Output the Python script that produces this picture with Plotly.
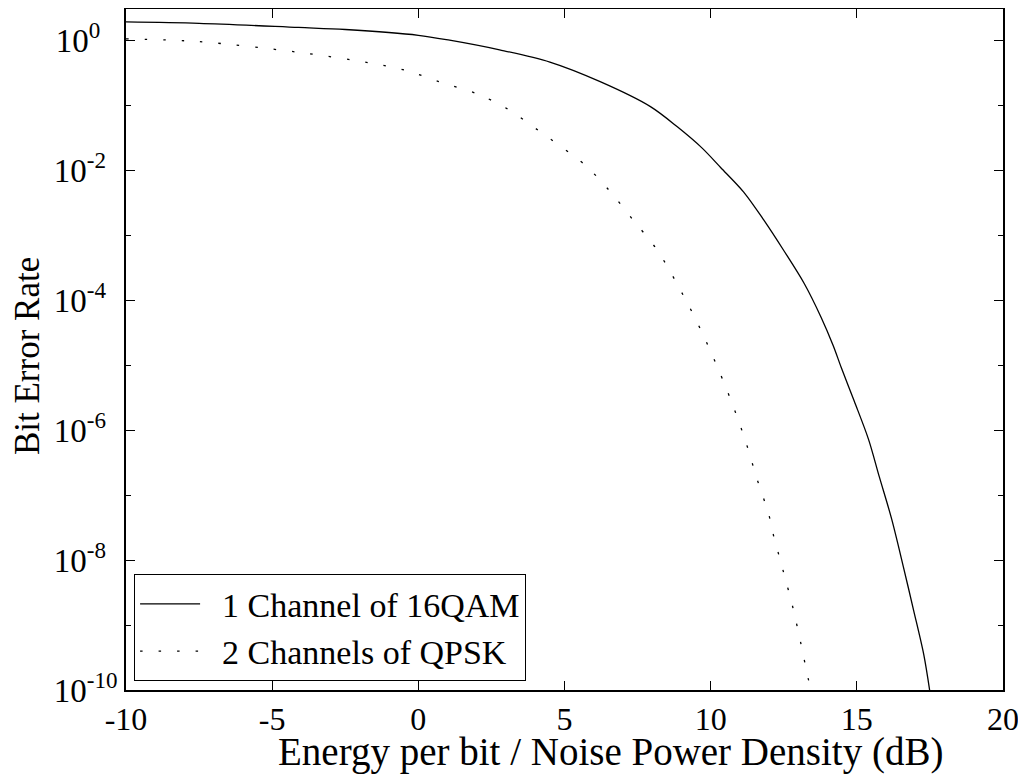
import plotly.graph_objects as go

# 1 Channel of 16QAM (solid)
qam_x = [-10, -7.5, -4.1, -2.5, 0, 1.07, 2.78, 4.5, 6.22, 7.94, 8.87, 9.7, 10.34, 11.13,
         11.82, 12.5, 13.2, 13.78, 14.19, 14.47, 14.91, 15.4, 15.77, 16.19, 16.6, 16.94,
         17.29, 17.49]
qam_ber = [1.91, 1.82, 1.57, 1.46, 1.19, 1.0, 0.71, 0.46, 0.23, 0.095, 0.046, 0.022, 0.011,
           4.6e-3, 1.7e-3, 5.8e-4, 1.8e-4, 5.4e-5, 2.0e-5, 9.1e-6, 2.8e-6, 7.2e-7, 1.9e-7,
           4.3e-8, 7.6e-9, 1.7e-9, 3.5e-10, 1.0e-10]

# 2 Channels of QPSK (dotted)
qpsk_x = [-10, -7.5, -4.2, -1.7, -0.4, 0.7, 2.0, 3.06, 4.1, 5.7, 6.56, 7.35, 8.18, 9.15,
          9.73, 10.27, 10.76, 11.2, 11.58, 11.99, 12.13, 12.47, 12.82, 13.09, 13.37, 13.45]
qpsk_ber = [1.05, 0.95, 0.66, 0.45, 0.34, 0.23, 0.15, 0.087, 0.041, 0.012, 4.7e-3, 1.7e-3,
            5.8e-4, 1.0e-4, 3.0e-5, 8.5e-6, 2.4e-6, 6.6e-7, 1.8e-7, 5.0e-8, 2.6e-8, 7.1e-9,
            1.8e-9, 5.1e-10, 1.3e-10, 1.0e-10]

x_tick_vals = [-10, -5, 0, 5, 10, 15, 20]
x_tick_text = ["-10", "-5", "0", "5", "10", "15", "20"]
y_tick_vals = [1, 1e-2, 1e-4, 1e-6, 1e-8, 1e-10]
y_tick_text = ["10<sup>0\u00a0\u00a0\u00a0</sup>", "10<sup>-2\u00a0\u00a0</sup>",
               "10<sup>-4\u00a0\u00a0</sup>", "10<sup>-6\u00a0\u00a0</sup>",
               "10<sup>-8\u00a0\u00a0</sup>", "10<sup>-10</sup>"]
series_names = ["\u00a0\u00a01 Channel of 16QAM", "\u00a0\u00a02 Channels of QPSK"]
x_title = "Energy per bit / Noise Power Density (dB)"
y_title = "Bit Error Rate"

FONT = "Liberation Serif"

fig = go.Figure()
fig.add_trace(go.Scatter(x=qam_x, y=qam_ber, mode="lines", name=series_names[0],
                         line=dict(color="black", width=1.3, shape="spline", smoothing=0.9)))
fig.add_trace(go.Scatter(x=qpsk_x, y=qpsk_ber, mode="lines", name=series_names[1],
                         line=dict(color="black", width=1.3, dash="2.5px,16px",
                                   shape="spline", smoothing=0.9)))

# page body adds an 8px offset, so the figure is 8px smaller and margins shifted
fig.update_layout(
    width=1018, height=768,
    margin=dict(l=118, r=23, t=1, b=86),
    paper_bgcolor="white", plot_bgcolor="white",
    font=dict(family=FONT, size=32, color="black"),
    showlegend=True,
    legend=dict(x=0.009, y=0.013, xanchor="left", yanchor="bottom",
                bgcolor="white", bordercolor="black", borderwidth=1.2,
                font=dict(family=FONT, size=34, color="black"),
                itemwidth=60, tracegroupgap=0),
    annotations=[
        dict(text=x_title, xref="paper", yref="paper", x=0.553, y=-0.0915,
             xanchor="center", yanchor="middle", showarrow=False,
             font=dict(family=FONT, size=39, color="black")),
        dict(text=y_title, xref="paper", yref="paper", x=-0.112, y=0.49,
             xanchor="center", yanchor="middle", showarrow=False, textangle=-90,
             font=dict(family=FONT, size=35, color="black")),
    ],
)
fig.update_xaxes(
    range=[-10, 20], tickvals=x_tick_vals, ticktext=x_tick_text, ticks="inside",
    ticklen=9, tickwidth=1.2, tickcolor="black", showline=True, linecolor="black",
    linewidth=1.5, mirror="ticks", showgrid=False, zeroline=False, automargin=False,
    tickfont=dict(family=FONT, size=32),
)
fig.update_yaxes(
    type="log", range=[-10, 0.48], tickvals=y_tick_vals, ticktext=y_tick_text,
    ticks="inside", ticklen=9, tickwidth=1.2, tickcolor="black",
    minor=dict(tickvals=[1e-1, 1e-3, 1e-5, 1e-7, 1e-9], ticks="inside", ticklen=5,
               tickcolor="black", tickwidth=1.2),
    showline=True, linecolor="black", linewidth=1.5, mirror="ticks",
    showgrid=False, zeroline=False, automargin=False,
    tickfont=dict(family=FONT, size=33),
)

fig.write_html("out.html")
